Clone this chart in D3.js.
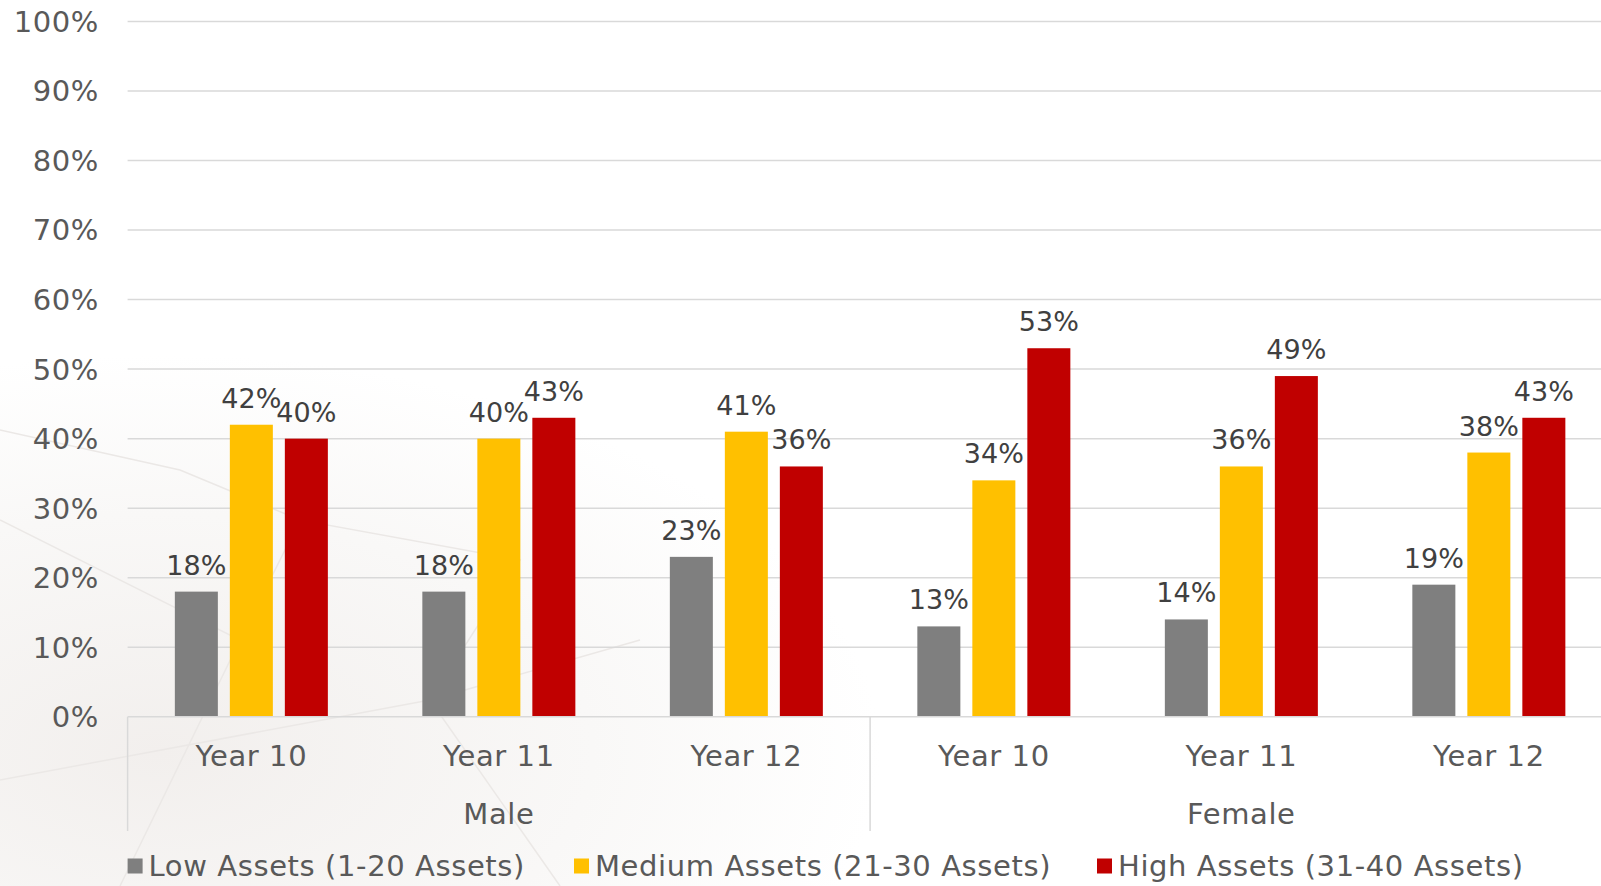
<!DOCTYPE html>
<html>
<head>
<meta charset="utf-8">
<script src="https://cdn.jsdelivr.net/npm/d3@7"></script>
<style>
  html, body { margin: 0; padding: 0; background: #ffffff; overflow: hidden; }
  text { font-family: "DejaVu Sans", Verdana, sans-serif; }
  .lbl { font-size: 29px; letter-spacing: 0.6px; fill: #595959; }
</style>
</head>
<body>
<div id="chart"></div>
<script>
// chart data
var years = ["Year 10", "Year 11", "Year 12"];
var genders = ["Male", "Female"];
var seriesNames = ["Low Assets (1-20 Assets)", "Medium Assets (21-30 Assets)", "High Assets (31-40 Assets)"];
var lowValues = [0.18, 0.18, 0.23, 0.13, 0.14, 0.19];
var mediumValues = [0.42, 0.40, 0.41, 0.34, 0.36, 0.38];
var highValues = [0.40, 0.43, 0.36, 0.53, 0.49, 0.43];
var yTicks = [0, 0.1, 0.2, 0.3, 0.4, 0.5, 0.6, 0.7, 0.8, 0.9, 1.0];
var colors = ["#7f7f7f", "#ffc000", "#c00000"];

var width = 1601, height = 886;
var left = 127.6, catW = 247.5;

var svg = d3.select("#chart")
  .append("svg")
    .attr("width", width)
    .attr("height", height)

// faint background watermark, bottom left
var defs = svg.append("defs");
var grad = defs.append("radialGradient").attr("id", "wm")
  .attr("cx", "0.1").attr("cy", "0.85").attr("r", "0.45");
grad.append("stop").attr("offset", "0").attr("stop-color", "#f2efed");
grad.append("stop").attr("offset", "0.6").attr("stop-color", "#f9f8f7");
grad.append("stop").attr("offset", "1").attr("stop-color", "#ffffff");
svg.append("rect").attr("width", width).attr("height", height).attr("fill", "url(#wm)");
var wm = svg.append("g").attr("stroke", "#ebe8e6").attr("stroke-width", 1.5).attr("fill", "none");
wm.append("path").attr("d", "M0,520 L240,640 L120,886");
wm.append("path").attr("d", "M0,780 L430,700 L640,640");
wm.append("path").attr("d", "M240,640 L300,520 L520,560 L430,700");
wm.append("path").attr("d", "M430,700 L560,886");
wm.append("path").attr("d", "M0,430 L180,470 L300,520");

// categories: gender x year
var cats = [];
genders.forEach(function(g){ years.forEach(function(y){ cats.push(g + "|" + y) }) });

var x = d3.scaleBand()
  .domain(cats)
  .range([left, left + catW * cats.length])
  .padding(0)

var xs = d3.scaleBand()
  .domain(seriesNames)
  .range([0, x.bandwidth()])
  .paddingInner(0.218)
  .paddingOuter(0.859)

var y = d3.scaleLinear()
  .domain([0, 1])
  .range([716.8, 21.4])

// gridlines + y labels
svg.append("g")
  .selectAll("line")
  .data(yTicks.slice(1))
  .enter()
  .append("line")
    .attr("x1", left).attr("x2", width)
    .attr("y1", function(d){ return y(d) }).attr("y2", function(d){ return y(d) })
    .attr("stroke", "#d9d9d9").attr("stroke-width", 1.5)

svg.append("g")
  .selectAll("text")
  .data(yTicks)
  .enter()
  .append("text")
    .attr("class", "lbl")
    .attr("x", 99)
    .attr("y", function(d){ return y(d) })
    .attr("dy", "0.36em")
    .attr("text-anchor", "end")
    .text(d3.format(".0%"))

// bars
var rows = cats.map(function(c, i){
  return { cat: c, vals: [lowValues[i], mediumValues[i], highValues[i]] }
});

var groups = svg.append("g")
  .selectAll("g")
  .data(rows)
  .enter()
  .append("g")
    .attr("transform", function(d){ return "translate(" + x(d.cat) + ",0)" })

var bars = groups.selectAll("g")
  .data(function(d){ return d.vals.map(function(v, j){ return { name: seriesNames[j], v: v, j: j } }) })
  .enter()
  .append("g")

bars.append("rect")
  .attr("x", function(d){ return xs(d.name) })
  .attr("width", xs.bandwidth())
  .attr("y", function(d){ return y(d.v) })
  .attr("height", function(d){ return y(0) - y(d.v) })
  .attr("fill", function(d){ return colors[d.j] })

bars.append("text")
  .attr("x", function(d){ return xs(d.name) + xs.bandwidth() / 2 })
  .attr("y", function(d){ return y(d.v) - 17 })
  .attr("text-anchor", "middle")
  .attr("fill", "#404040")
  .style("font-size", "27px")
  .text(function(d){ return d3.format(".0%")(d.v) })

// axis line and group dividers
svg.append("line")
  .attr("x1", left).attr("x2", width)
  .attr("y1", y(0)).attr("y2", y(0))
  .attr("stroke", "#d9d9d9").attr("stroke-width", 1.5)

var dividers = [0, 3, 6].map(function(i){ return i < cats.length ? x(cats[i]) : x(cats[cats.length - 1]) + catW });
svg.append("g")
  .selectAll("line")
  .data(dividers)
  .enter()
  .append("line")
    .attr("x1", function(d){ return d }).attr("x2", function(d){ return d })
    .attr("y1", y(0)).attr("y2", 831)
    .attr("stroke", "#d9d9d9").attr("stroke-width", 1.5)

// year labels
svg.append("g")
  .selectAll("text")
  .data(cats)
  .enter()
  .append("text")
    .attr("class", "lbl")
    .attr("x", function(d){ return x(d) + x.bandwidth() / 2 })
    .attr("y", 756)
    .attr("dy", "0.36em")
    .attr("text-anchor", "middle")
    .text(function(d){ return d.split("|")[1] })

// gender labels
svg.append("g")
  .selectAll("text")
  .data(genders)
  .enter()
  .append("text")
    .attr("class", "lbl")
    .attr("x", function(d){ return x(d + "|" + years[1]) + x.bandwidth() / 2 })
    .attr("y", 814)
    .attr("dy", "0.36em")
    .attr("text-anchor", "middle")
    .text(function(d){ return d })

// legend (nudged up a little so descenders stay on the page)
var legendX = [127.6, 574, 1097];
var legend = svg.append("g")
  .selectAll("g")
  .data(seriesNames)
  .enter()
  .append("g")
    .attr("transform", function(d, i){ return "translate(" + legendX[i] + ",866)" })

legend.append("rect")
  .attr("x", 0).attr("y", -7.5)
  .attr("width", 15).attr("height", 15)
  .attr("fill", function(d, i){ return colors[i] })

legend.append("text")
  .attr("class", "lbl")
  .attr("x", 21)
  .attr("dy", "0.36em")
  .text(function(d){ return d })
</script>
</body>
</html>
